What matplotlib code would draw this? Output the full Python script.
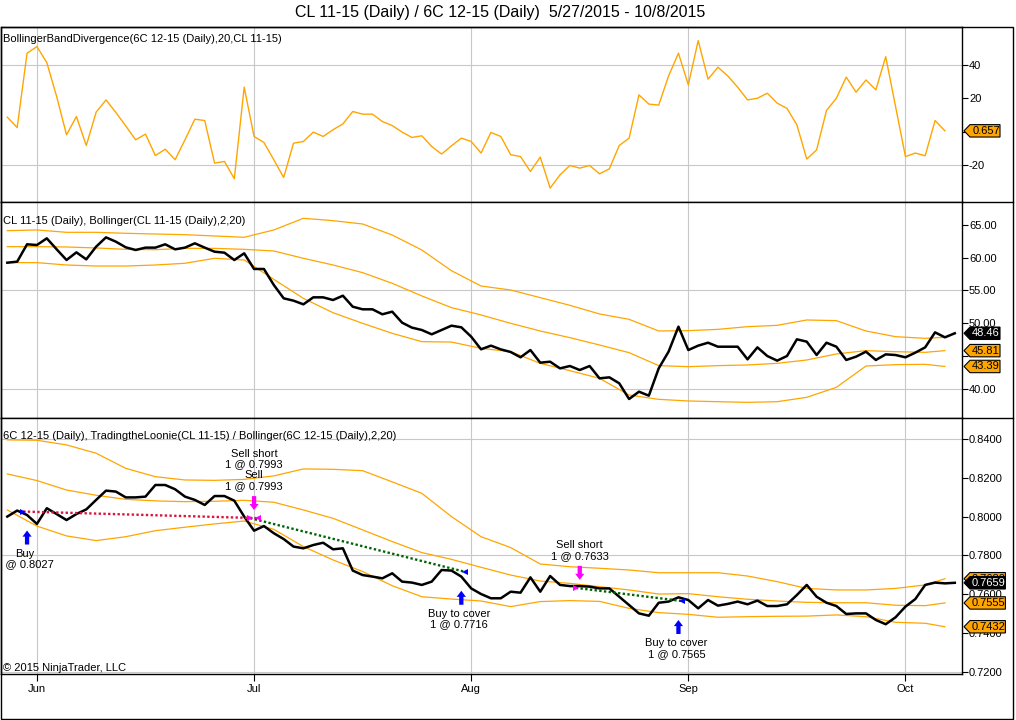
import matplotlib
matplotlib.use("Agg")
import matplotlib.pyplot as plt
from matplotlib.lines import Line2D
from matplotlib.patches import Polygon, Rectangle
from matplotlib.transforms import offset_copy, IdentityTransform
from matplotlib.ticker import FuncFormatter

plt.rcParams["font.family"] = ["Liberation Sans", "DejaVu Sans"]
plt.rcParams["font.size"] = 8

# ----------------------------
# Data (x = bar number, 5/27/2015 = bar 0)
# ----------------------------
title = "CL 11-15 (Daily) / 6C 12-15 (Daily)  5/27/2015 - 10/8/2015"
label_top = "BollingerBandDivergence(6C 12-15 (Daily),20,CL 11-15)"
label_mid = "CL 11-15 (Daily), Bollinger(CL 11-15 (Daily),2,20)"
label_bot = "6C 12-15 (Daily), TradingtheLoonie(CL 11-15) / Bollinger(6C 12-15 (Daily),2,20)"

month_pos = [3, 25, 47, 69, 91]
month_names = ["Jun", "Jul", "Aug", "Sep", "Oct"]

divergence = [8.8, 2.6, 47.0, 50.9, 41.4, 21.1, -1.7, 9.2, -8.1, 11.8,
              19.1, 11.6, 3.6, -4.7, -1.3, -14.1, -10.3, -16.6, -4.7, 7.6,
              6.8, -18.6, -17.6, -27.9, 26.7, -2.7, -6.3, -16.6, -27.2, -6.7,
              -5.7, -0.1, -2.7, 1.3, 4.8, 12.2, 10.6, 10.6, 6.2, 3.8,
              -0.1, -3.3, -2.3, -8.7, -13.2, -8.3, -3.7, -5.7, -12.6, -0.3,
              -2.7, -13.6, -14.7, -23.6, -15.0, -33.5, -25.6, -20.0, -21.6, -20.0,
              -25.0, -22.0, -8.1, -3.7, 22.1, 16.6, 16.0, 33.4, 47.0, 28.1,
              54.5, 31.5, 38.6, 33.4, 26.7, 19.1, 20.1, 23.1, 17.2, 14.0,
              4.2, -16.2, -10.7, 12.8, 20.1, 32.7, 23.7, 31.0, 25.1, 44.9,
              15.1, -14.7, -12.6, -14.2, 6.8, 0.657]

cl_close = [59.24, 59.40, 62.05, 61.94, 62.96, 61.28, 59.65, 60.82, 59.75, 61.69,
            63.11, 62.45, 61.59, 61.18, 61.54, 61.54, 62.05, 61.28, 61.54, 62.20,
            61.54, 60.92, 60.77, 59.65, 60.67, 58.28, 58.28, 55.84, 53.80, 53.44,
            52.88, 53.95, 53.95, 53.54, 54.20, 52.52, 52.12, 52.12, 51.36, 51.76,
            50.08, 49.32, 48.96, 48.30, 48.96, 49.62, 49.37, 47.94, 46.01, 46.57,
            46.00, 45.60, 44.79, 45.90, 43.97, 44.12, 43.10, 43.46, 42.85, 43.46,
            41.58, 41.73, 40.82, 38.42, 39.54, 38.93, 43.10, 45.65, 49.47, 45.90,
            46.57, 47.02, 46.41, 46.41, 46.41, 44.48, 46.31, 44.99, 44.28, 44.99,
            47.54, 47.18, 45.14, 47.02, 46.41, 44.38, 44.89, 45.65, 44.38, 45.24,
            45.14, 44.79, 45.50, 46.31, 48.60, 47.84, 48.46]

cad_close = [0.8001, 0.8032, 0.8009, 0.7963, 0.8044, 0.8014, 0.7983, 0.8014, 0.8038, 0.8087,
             0.8135, 0.8130, 0.8100, 0.8100, 0.8104, 0.8164, 0.8164, 0.8142, 0.8104, 0.8087,
             0.8061, 0.8107, 0.8107, 0.8083, 0.8001, 0.7928, 0.7952, 0.7915, 0.7885, 0.7846,
             0.7837, 0.7854, 0.7866, 0.7832, 0.7837, 0.7722, 0.7699, 0.7691, 0.7682, 0.7708,
             0.7665, 0.7660, 0.7648, 0.7665, 0.7725, 0.7722, 0.7691, 0.7630, 0.7601, 0.7579,
             0.7579, 0.7613, 0.7608, 0.7687, 0.7613, 0.7694, 0.7648, 0.7642, 0.7642, 0.7639,
             0.7630, 0.7630, 0.7587, 0.7544, 0.7501, 0.7489, 0.7556, 0.7562, 0.7584, 0.7570,
             0.7527, 0.7570, 0.7541, 0.7550, 0.7562, 0.7548, 0.7567, 0.7539, 0.7539, 0.7548,
             0.7596, 0.7648, 0.7587, 0.7556, 0.7539, 0.7498, 0.7501, 0.7501, 0.7467, 0.7445,
             0.7481, 0.7536, 0.7575, 0.7648, 0.7660, 0.7656, 0.7659]

band_bars = [0, 3, 6, 9, 12, 15, 18, 21, 24, 27, 30, 33, 36, 39, 42, 45, 48,
             51, 54, 57, 60, 63, 66, 69, 72, 75, 78, 81, 84, 87, 90, 93, 95]

cl_upper = [64.13, 64.24, 63.88, 63.88, 63.73, 63.62, 63.52, 63.32, 63.12, 64.24, 66.02,
            65.66, 65.15, 63.47, 61.18, 58.02, 55.68, 55.07, 53.90, 52.73, 51.41, 50.59,
            48.81, 48.86, 49.06, 49.47, 49.67, 50.49, 50.39, 48.81, 47.94, 47.69, 47.84]
cl_mid = [61.69, 61.69, 61.64, 61.49, 61.28, 61.23, 61.43, 61.43, 61.28, 61.03, 59.91,
          58.89, 57.72, 56.09, 54.16, 52.38, 51.26, 49.98, 48.81, 47.79, 46.67, 45.50,
          43.52, 43.36, 43.52, 43.62, 43.87, 44.38, 45.30, 45.81, 45.65, 45.55, 45.81]
cl_lower = [59.25, 59.25, 58.89, 58.73, 58.73, 58.89, 59.15, 59.91, 59.65, 56.70, 53.79,
            51.60, 49.98, 48.45, 47.18, 47.12, 46.16, 45.65, 43.87, 42.75, 41.58, 39.03,
            38.37, 38.12, 38.01, 37.91, 38.01, 38.68, 40.20, 43.46, 43.67, 43.72, 43.39]

cad_upper = [0.8397, 0.8395, 0.8371, 0.8328, 0.8250, 0.8207, 0.8190, 0.8188, 0.8193, 0.8211,
             0.8247, 0.8245, 0.8238, 0.8180, 0.8121, 0.8001, 0.7897, 0.7841, 0.7756, 0.7742,
             0.7734, 0.7725, 0.7711, 0.7711, 0.7711, 0.7694, 0.7665, 0.7630, 0.7622, 0.7622,
             0.7630, 0.7648, 0.7680]
cad_mid = [0.8221, 0.8187, 0.8138, 0.8111, 0.8090, 0.8082, 0.8078, 0.8080, 0.8085, 0.8075,
           0.8035, 0.7992, 0.7932, 0.7872, 0.7815, 0.7780, 0.7739, 0.7699, 0.7668, 0.7656,
           0.7639, 0.7622, 0.7601, 0.7603, 0.7587, 0.7574, 0.7565, 0.7558, 0.7556, 0.7556,
           0.7543, 0.7541, 0.7555]
cad_lower = [0.8035, 0.7952, 0.7901, 0.7877, 0.7897, 0.7928, 0.7946, 0.7963, 0.7978, 0.7935,
             0.7846, 0.7777, 0.7717, 0.7644, 0.7587, 0.7575, 0.7565, 0.7536, 0.7562, 0.7567,
             0.7563, 0.7527, 0.7505, 0.7496, 0.7481, 0.7484, 0.7486, 0.7487, 0.7493, 0.7484,
             0.7455, 0.7450, 0.7432]

# executions: bar, price, name
exec_bars = [2, 25, 25, 46, 58, 68]
exec_prices = [0.8027, 0.7993, 0.7993, 0.7716, 0.7633, 0.7565]
exec_names = ["Buy", "Sell short", "Sell", "Buy to cover", "Sell short", "Buy to cover"]
# trades: entry execution -> exit execution
trade_pairs = [(0, 2), (1, 3), (4, 5)]
trade_colors = ["#dc143c", "#006400", "#006400"]

ORANGE = "#ffa500"
GRID = "#c8c8c8"

# ----------------------------
# Figure and panels (pixel layout)
# ----------------------------
W, H = 1016, 720
fig = plt.figure(figsize=(W / 100, H / 100), dpi=100)


def px_axes(x0, y0, x1, y1):
    return fig.add_axes([x0 / W, 1 - y1 / H, (x1 - x0) / W, (y1 - y0) / H])


ax_top = px_axes(1, 27, 962, 202)
ax_mid = px_axes(1, 202, 962, 418)
ax_bot = px_axes(1, 418, 962, 674)

ax_top.set_ylim(-41.8, 62.6)
ax_mid.set_ylim(35.52, 68.51)
ax_bot.set_ylim(0.7188, 0.8510)

# tick labels that sit under a price tag are left blank
ax_top.set_yticks([-20, 0, 20, 40])
ax_mid.set_yticks([40, 45, 50, 55, 60, 65])
ax_bot.set_yticks([0.72, 0.74, 0.76, 0.78, 0.80, 0.82, 0.84])
ax_top.yaxis.set_major_formatter(FuncFormatter(lambda v, p: "" if v == 0 else "%d" % v))
ax_mid.yaxis.set_major_formatter(FuncFormatter(lambda v, p: "" if v == 45 else "%.2f" % v))
ax_bot.yaxis.set_major_formatter(FuncFormatter(lambda v, p: "%.4f" % v))

hgrid = {ax_top: [40, -20], ax_mid: [55, 40], ax_bot: [0.84, 0.78, 0.72]}

for ax in (ax_top, ax_mid, ax_bot):
    ax.set_xlim(-0.64, 96.73)
    ax.yaxis.tick_right()
    ax.tick_params(axis="y", direction="out", length=4, width=0.8, pad=1, labelsize=8)
    for s in ax.spines.values():
        s.set_linewidth(1.0)
        s.set_color("black")
    for m in month_pos:
        ax.axvline(m, color=GRID, lw=0.8, zorder=0)
    for g in hgrid[ax]:
        ax.axhline(g, color=GRID, lw=0.8, zorder=0)
    if ax is not ax_bot:
        ax.set_xticks([])

ax_bot.set_xticks(month_pos)
ax_bot.set_xticklabels(month_names)
ax_bot.tick_params(axis="x", direction="out", length=5, width=0.8, pad=2, labelsize=8)

# ----------------------------
# Series
# ----------------------------
ax_top.plot(range(len(divergence)), divergence, color=ORANGE, lw=1.0)

for band in (cl_upper, cl_mid, cl_lower):
    ax_mid.plot(band_bars, band, color=ORANGE, lw=0.9)
ax_mid.plot(range(len(cl_close)), cl_close, color="black", lw=1.8, zorder=4)

for band in (cad_upper, cad_mid, cad_lower):
    ax_bot.plot(band_bars, band, color=ORANGE, lw=0.9)
ax_bot.plot(range(len(cad_close)), cad_close, color="black", lw=1.8, zorder=4)

# ----------------------------
# Trades
# ----------------------------
def marker_x(k):
    entry = exec_names[k] in ("Buy", "Sell short")
    return exec_bars[k] - 0.4 if entry else exec_bars[k] + 0.35


for (a, b), col in zip(trade_pairs, trade_colors):
    ax_bot.plot([marker_x(a), marker_x(b)], [exec_prices[a], exec_prices[b]],
                color=col, lw=1.7, linestyle=(0, (1, 1)), zorder=5)

for k in range(len(exec_bars)):
    is_buy = exec_names[k].startswith("Buy")
    entry = exec_names[k] in ("Buy", "Sell short")
    ax_bot.plot(marker_x(k), exec_prices[k], marker=">" if entry else "<",
                color="#0000ff" if is_buy else "#ff00ff", ms=5, mew=0, zorder=6)

# arrows and labels, one per bar
done = []
for k in range(len(exec_bars)):
    bar = exec_bars[k]
    if bar in done:
        continue
    done.append(bar)
    ks = [j for j in range(len(exec_bars)) if exec_bars[j] == bar]
    text = "\n".join("%s\n1 @ %.4f" % (exec_names[j], exec_prices[j]) for j in ks)
    price = exec_prices[k]
    is_buy = exec_names[k].startswith("Buy")
    col = "#0000ff" if is_buy else "#ff00ff"
    if is_buy:
        tip = offset_copy(ax_bot.transData, fig=fig, x=0, y=-19, units="dots")
        tail = (0, -14)
        ax_bot.annotate(text, xy=(bar, price), xytext=(-2, -37), textcoords="offset pixels",
                        ha="center", va="top", fontsize=8, linespacing=1.1,
                        clip_on=True, zorder=7)
    else:
        tip = offset_copy(ax_bot.transData, fig=fig, x=0, y=8, units="dots")
        tail = (0, 14)
        ax_bot.annotate(text, xy=(bar, price), xytext=(0, 27), textcoords="offset pixels",
                        ha="center", va="bottom", fontsize=8, linespacing=1.1, zorder=7)
    ax_bot.annotate("", xy=(bar, price), xycoords=tip, xytext=tail, textcoords="offset pixels",
                    arrowprops=dict(arrowstyle="simple,head_length=0.4,head_width=0.6,tail_width=0.28",
                                    fc=col, ec=col, lw=0, shrinkA=0, shrinkB=0,
                                    mutation_scale=11), zorder=7)

# ----------------------------
# Price tags on the right axis
# ----------------------------
def price_tag(ax, value, text, face, fg):
    x0 = ax.bbox.x1 + 2
    y = ax.transData.transform((0, value))[1]
    w = 9 + 5.4 * len(text)
    h = 6.2
    verts = [(x0, y), (x0 + 6, y + h), (x0 + w, y + h), (x0 + w, y - h), (x0 + 6, y - h)]
    fig.add_artist(Polygon(verts, closed=True, transform=IdentityTransform(),
                           facecolor=face, edgecolor="black", lw=0.8, zorder=10))
    fig.text(x0 + 4 + w / 2, y, text, transform=IdentityTransform(), ha="center",
             va="center", color=fg, fontsize=8, zorder=11)


price_tag(ax_top, divergence[-1], "%.3f" % divergence[-1], ORANGE, "black")
price_tag(ax_mid, cl_mid[-1], "%.2f" % cl_mid[-1], ORANGE, "black")
price_tag(ax_mid, cl_lower[-1], "%.2f" % cl_lower[-1], ORANGE, "black")
price_tag(ax_mid, cl_close[-1], "%.2f" % cl_close[-1], "black", "white")
price_tag(ax_bot, cad_upper[-1], "%.4f" % cad_upper[-1], ORANGE, "black")
price_tag(ax_bot, cad_mid[-1], "%.4f" % cad_mid[-1], ORANGE, "black")
price_tag(ax_bot, cad_lower[-1], "%.4f" % cad_lower[-1], ORANGE, "black")
price_tag(ax_bot, cad_close[-1], "%.4f" % cad_close[-1], "black", "white")

# ----------------------------
# Texts and frame
# ----------------------------
fig.text(500 / W, 1 - 13 / H, title, ha="center", va="center", fontsize=11.5)
fig.text(3 / W, 1 - 39 / H, label_top, ha="left", va="center", fontsize=8)
fig.text(3 / W, 1 - 221 / H, label_mid, ha="left", va="center", fontsize=8)
fig.text(3 / W, 1 - 436 / H, label_bot, ha="left", va="center", fontsize=8)
fig.text(3 / W, 1 - 668 / H, "\u00a9 2015 NinjaTrader, LLC", ha="left", va="center", fontsize=8)

fig.add_artist(Rectangle((1 / W, 1 - 719 / H), 1012 / W, 692 / H, transform=fig.transFigure,
                         fill=False, edgecolor="black", lw=1.0))
for yy in (202, 418):
    fig.add_artist(Line2D([962 / W, 1013 / W], [1 - yy / H, 1 - yy / H],
                          transform=fig.transFigure, color="black", lw=1.0))

fig.savefig("out.png", dpi=100)
plt.close(fig)
